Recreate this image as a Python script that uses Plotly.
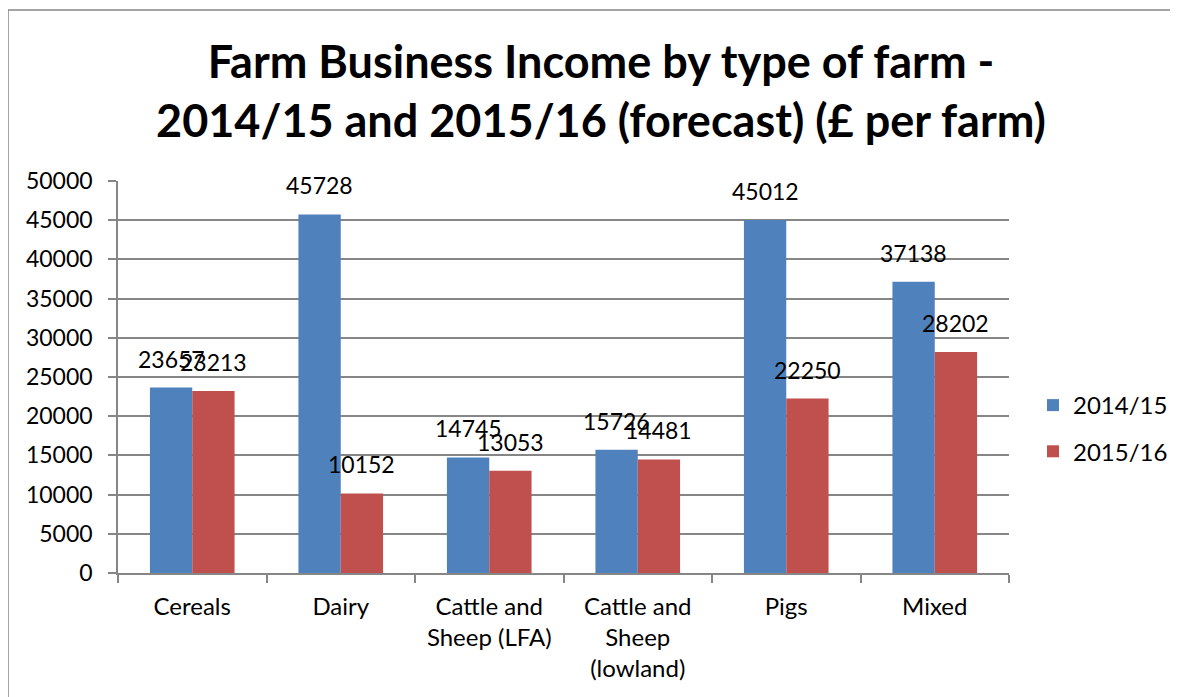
import plotly.graph_objects as go

categories = ["Cereals", "Dairy", "Cattle and<br>Sheep (LFA)", "Cattle and<br>Sheep<br>(lowland)", "Pigs", "Mixed"]
series_names = ["2014/15", "2015/16"]
values_2014 = [23657, 45728, 14745, 15726, 45012, 37138]
values_2015 = [23213, 10152, 13053, 14481, 22250, 28202]
y_ticks = [0, 5000, 10000, 15000, 20000, 25000, 30000, 35000, 40000, 45000, 50000]
colors = ["#4F81BD", "#C0504D"]

W, H = 1178, 697
OFF = 8  # page body margin offset
PX0, PX1, PY0, PY1 = 118 - OFF, 1009 - OFF, 181 - OFF, 573 - OFF
L, R, T, B = PX0, W - PX1, PY0, H - PY1
plot_w = PX1 - PX0
plot_h = PY1 - PY0
bargap = 0.43
FONT = "Lato"
GRID = "#868686"

fig = go.Figure()
for name, vals, col in zip(series_names, [values_2014, values_2015], colors):
    fig.add_trace(go.Bar(x=categories, y=vals, name=name, marker=dict(color=col, line=dict(width=0)),
                         legendgroup=name))

# data labels above each bar
shift = plot_w / len(categories) * (1 - bargap) / 4
for sign, vals in zip([-1, 1], [values_2014, values_2015]):
    for c, v in zip(categories, vals):
        fig.add_annotation(x=c, y=v, xref="x", yref="y", text=str(v), showarrow=False,
                           xshift=sign * shift, yanchor="bottom", yshift=13,
                           font=dict(family=FONT, size=23, color="black"))

# outer chart border
fig.add_shape(type="rect", xref="paper", yref="paper",
              x0=(8 - OFF - L) / plot_w, x1=1.5, y0=-0.6, y1=(PY1 - (10 - OFF)) / plot_h,
              line=dict(color=GRID, width=1.5), fillcolor="rgba(0,0,0,0)", layer="below")

fig.update_layout(
    width=W, height=H,
    margin=dict(l=L, r=R, t=T, b=B, autoexpand=False),
    paper_bgcolor="white", plot_bgcolor="white",
    barmode="group", bargap=bargap, bargroupgap=0,
    title=dict(text="<b>Farm Business Income by type of farm -<br>2014/15 and 2015/16 (forecast) (£ per farm)</b>",
               x=(601 - OFF) / W, xanchor="center", y=1 - 70 / H, yanchor="middle",
               font=dict(family=FONT, size=45, color="black")),
    font=dict(family=FONT, size=24, color="black"),
    legend=dict(x=(1033 - OFF - L) / plot_w, xanchor="left", y=(PY1 - (428.5 - OFF)) / plot_h, yanchor="middle",
                traceorder="grouped", tracegroupgap=12, font=dict(family=FONT, size=24, color="black"),
                bgcolor="rgba(0,0,0,0)"),
    xaxis=dict(showline=True, linecolor=GRID, linewidth=1.5, ticks="outside", tickson="boundaries",
               ticklen=8, tickcolor=GRID, tickwidth=1.5, showgrid=False,
               tickfont=dict(family=FONT, size=24, color="black"), ticklabelstandoff=11),
    yaxis=dict(range=[0, 50000], tickvals=y_ticks, tickformat="d", showline=True, linecolor=GRID, linewidth=1.5,
               ticks="outside", ticklen=8, tickcolor=GRID, tickwidth=1.5, showgrid=True,
               gridcolor=GRID, gridwidth=1.5, zeroline=False,
               tickfont=dict(family=FONT, size=23, color="black"), ticklabelstandoff=11),
)

fig.write_html("out.html")
